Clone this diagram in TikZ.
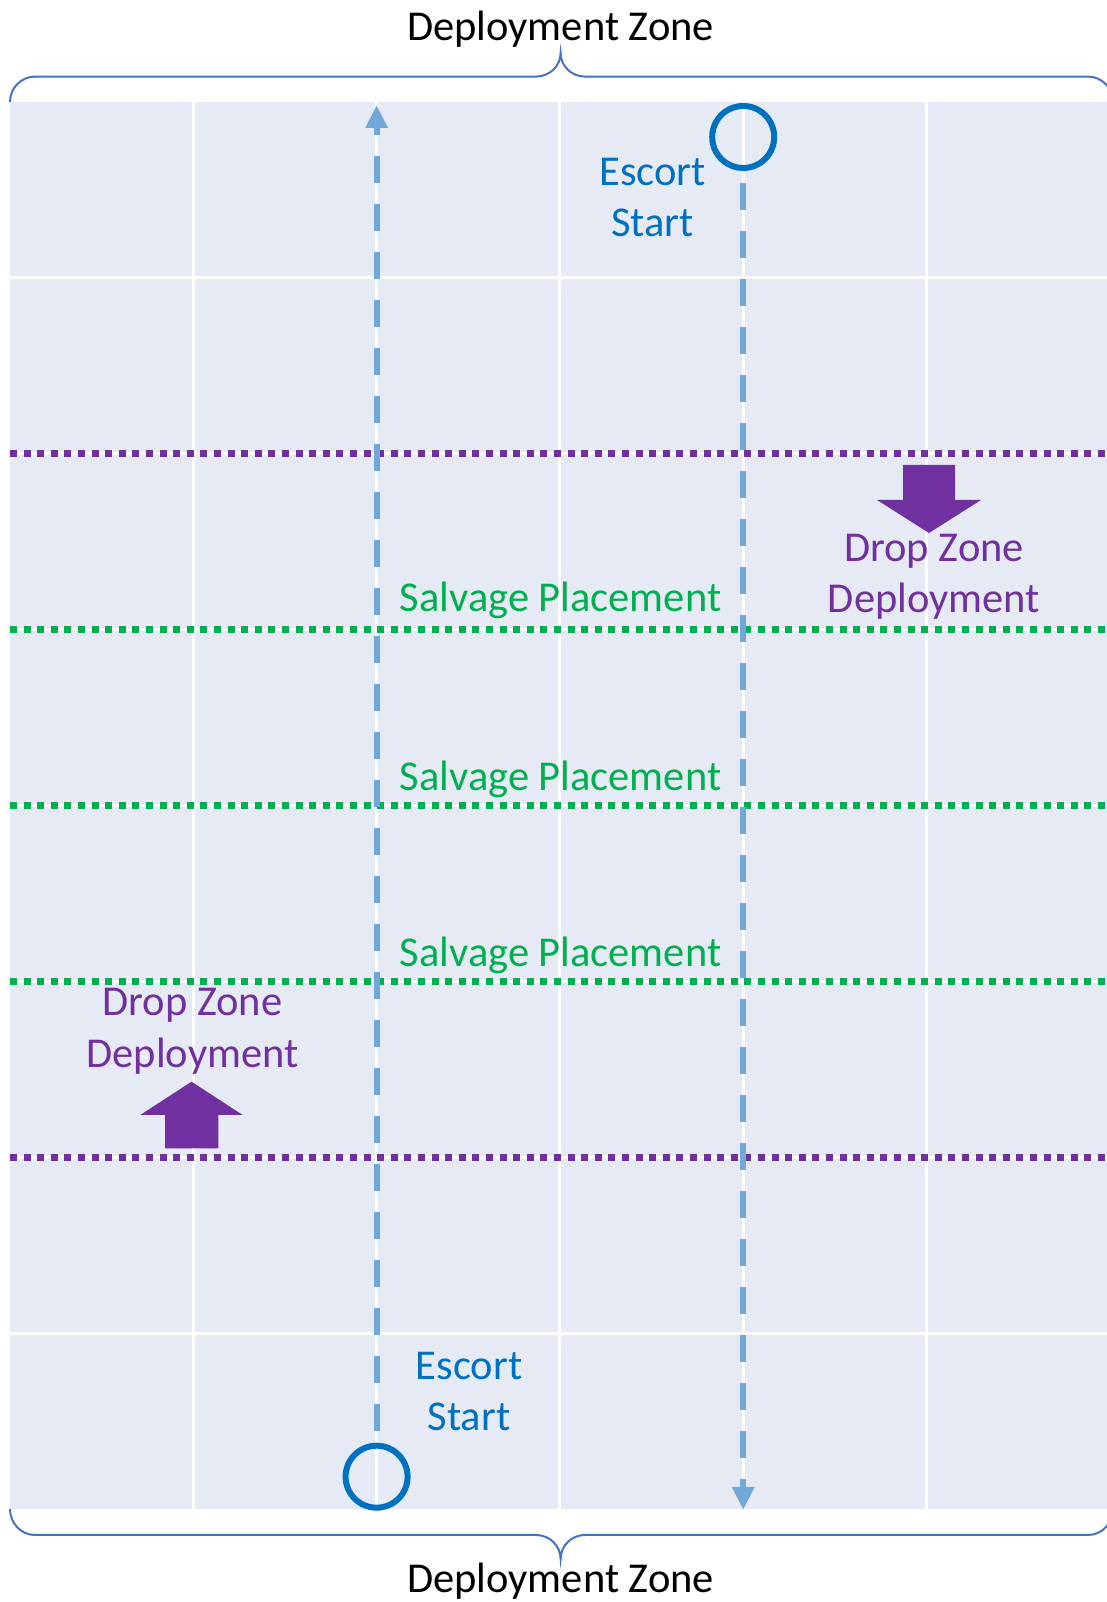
\documentclass[tikz,border=0pt]{standalone}
\usepackage{fontspec}
\setmainfont{Carlito}
\usetikzlibrary{arrows.meta}
\definecolor{boardbg}{RGB}{230,234,244}
\definecolor{bracebl}{RGB}{68,114,196}
\definecolor{ringbl}{RGB}{0,112,192}
\definecolor{pathbl}{RGB}{112,168,218}
\definecolor{dzpurple}{RGB}{112,48,160}
\definecolor{svgreen}{RGB}{0,176,80}

\begin{document}
\begin{tikzpicture}[x=0.5pt,y=0.5pt,
  gridln/.style={white,line width=1.5pt},
  dz/.style={dzpurple,line width=3.5pt,dash pattern=on 3.5pt off 3.3pt},
  salv/.style={svgreen,line width=3.5pt,dash pattern=on 3.5pt off 3.3pt},
  escort/.style={pathbl,line width=3pt,dash pattern=on 13.5pt off 10.5pt,dash phase=18pt,
    -{Triangle[length=11.5pt,width=10.5pt]}},
  ring/.style={draw=ringbl,circle,line width=3pt,minimum size=31pt,inner sep=0pt},
  lbl/.style={font=\fontsize{21.25}{25.75}\selectfont,align=center,anchor=base,inner sep=0pt},
  brace/.style={bracebl,line width=1pt}]
  \useasboundingbox (0,0) rectangle (1107,1602);
  % board and grid
  \fill[boardbg] (10,93) rectangle (1113,1500);
  \foreach \k in {1,...,5}
    \draw[gridln] ({10+183.3*\k},93) -- ({10+183.3*\k},1500);
  \foreach \j in {1,...,7}
    \draw[gridln] (10,{1500-175.9*\j}) -- (1113,{1500-175.9*\j});
  \foreach \j in {2,6}
    \draw[dz] (10,{1500-175.9*\j}) -- (1113,{1500-175.9*\j});
  \foreach \j in {3,4,5}
    \draw[salv] (10,{1500-175.9*\j}) -- (1113,{1500-175.9*\j});
  % braces
  \draw[brace] (10,1500) to[out=90,in=180] (35,1525.4) -- (536,1525.4)
    to[out=0,in=-90] (560.6,1549) to[out=-90,in=180] (585,1525.4)
    -- (1088,1525.4) to[out=0,in=90] (1113,1500);
  \draw[brace] (10,93) to[out=-90,in=180] (35,67) -- (536,67)
    to[out=0,in=90] (560.6,43) to[out=90,in=180] (585,67)
    -- (1088,67) to[out=0,in=-90] (1113,93);
  \node[lbl] (topzone) at (560.6,1561) {Deployment Zone};
  \node[lbl] (botzone) at (560.6,10) {Deployment Zone};
  % escorts
  \node[ring] (topstart) at (743.2,1465) {};
  \node[ring] (botstart) at (376.6,125.3) {};
  \coordinate (toptip) at (376.6,1497);
  \coordinate (bottip) at (743.2,92);
  \draw[escort] (botstart) -- (toptip);
  \draw[escort] (topstart) -- (bottip);
  \node[lbl,ringbl] (topescort) at (652.6,1365.3) {Escort\\Start};
  \node[lbl,ringbl] (botescort) at (469,171) {Escort\\Start};
  % salvage
  \node[lbl,svgreen] (salv1) at (560.5,990.3) {Salvage Placement};
  \node[lbl,svgreen] (salv2) at (560.5,811.4) {Salvage Placement};
  \node[lbl,svgreen] (salv3) at (560.5,635.5) {Salvage Placement};
  % drop zones
  \fill[dzpurple] (903,1137) -- (955,1137) -- (955,1102) -- (981,1102)
    -- (929,1069) -- (877,1102) -- (903,1102) -- cycle;
  \fill[dzpurple] (165,453.7) -- (218.3,453.7) -- (218.3,487) -- (242.7,487)
    -- (191.5,520.3) -- (140.3,487) -- (165,487) -- cycle;
  \node[lbl,dzpurple] (dzright) at (934,989.3) {Drop Zone\\Deployment};
  \node[lbl,dzpurple] (dzleft) at (192.5,534.7) {Drop Zone\\Deployment};
\end{tikzpicture}
\end{document}
